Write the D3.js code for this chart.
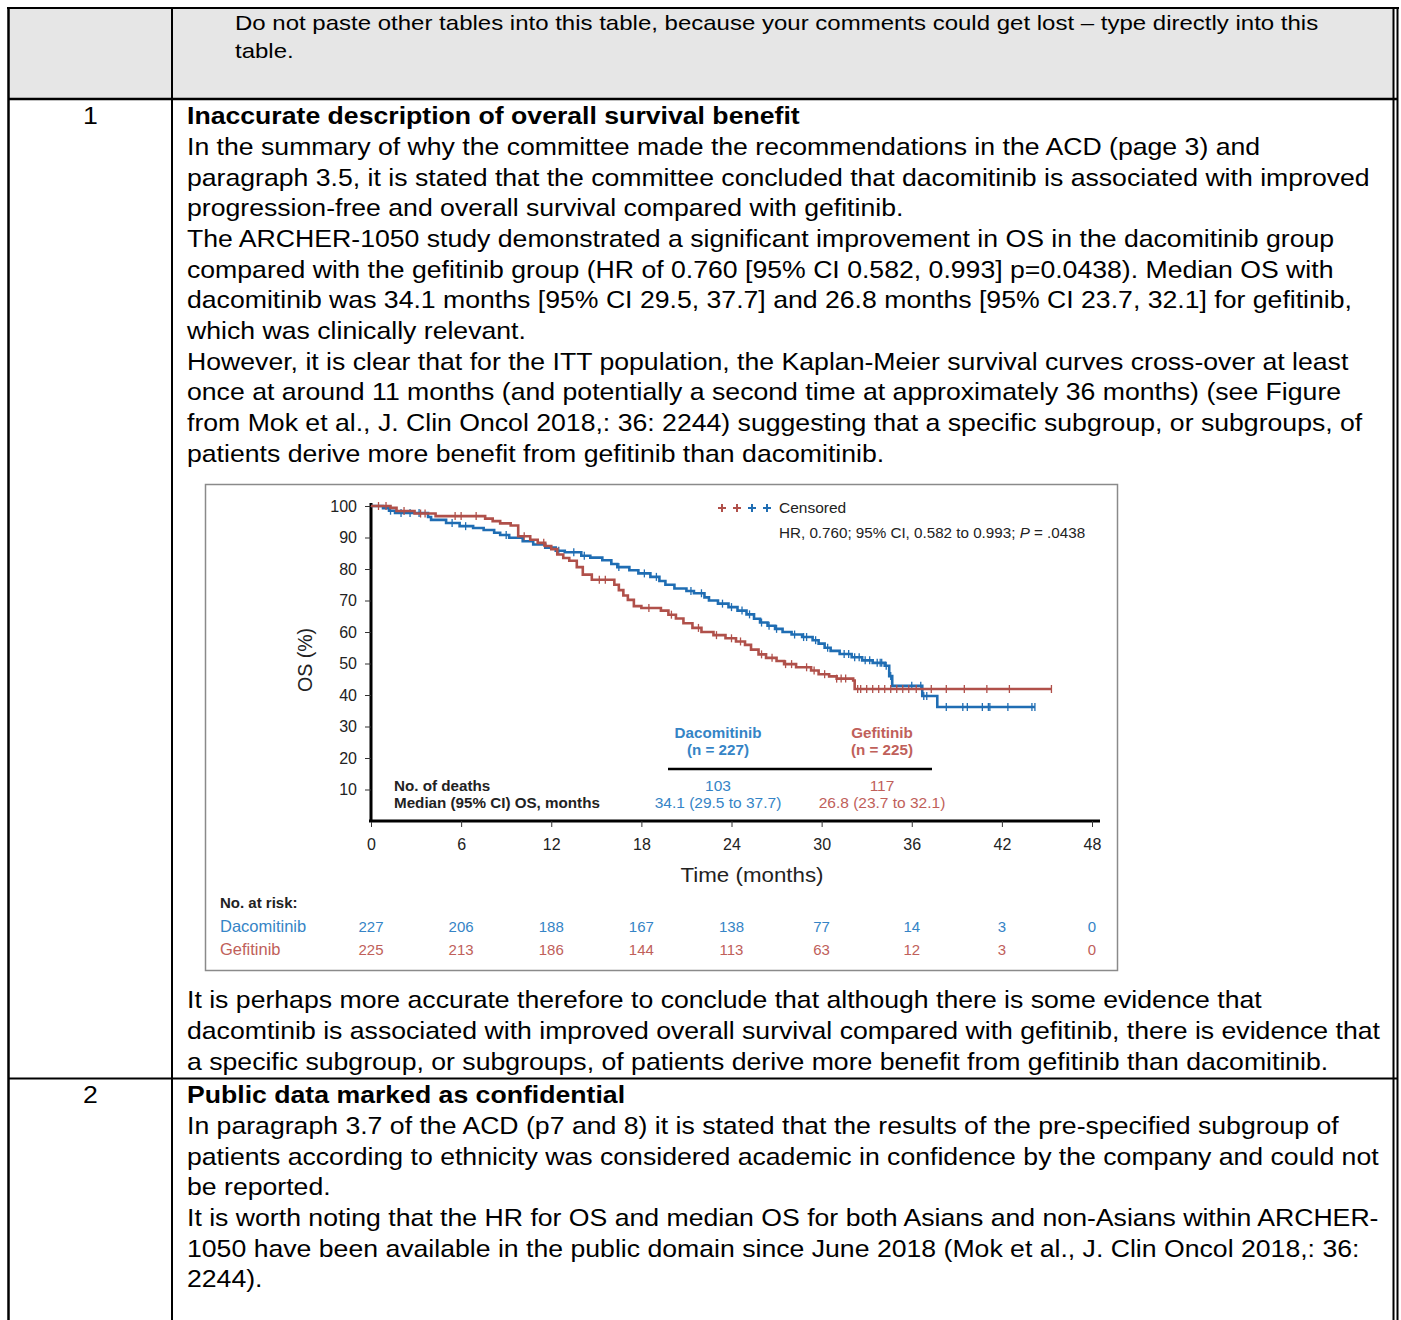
<!DOCTYPE html>
<html>
<head>
<meta charset="utf-8">
<script src="https://cdn.jsdelivr.net/npm/d3@7"></script>
<style>
  body { margin: 0; background: #fff; }
  svg text { font-family: "Liberation Sans", Arial, sans-serif; }
</style>
</head>
<body>
<div id="page"></div>
<script>
// ---- document text ----
var headerLines = [
  "Do not paste other tables into this table, because your comments could get lost \u2013 type directly into this",
  "table."
];
var row1Title = "Inaccurate description of overall survival benefit";
var row1Lines = [
  "In the summary of why the committee made the recommendations in the ACD (page 3) and",
  "paragraph 3.5, it is stated that the committee concluded that dacomitinib is associated with improved",
  "progression-free and overall survival compared with gefitinib.",
  "The ARCHER-1050 study demonstrated a significant improvement in OS in the dacomitinib group",
  "compared with the gefitinib group (HR of 0.760 [95% CI 0.582, 0.993] p=0.0438). Median OS with",
  "dacomitinib was 34.1 months [95% CI 29.5, 37.7] and 26.8 months [95% CI 23.7, 32.1] for gefitinib,",
  "which was clinically relevant.",
  "However, it is clear that for the ITT population, the Kaplan-Meier survival curves cross-over at least",
  "once at around 11 months (and potentially a second time at approximately 36 months) (see Figure",
  "from Mok et al., J. Clin Oncol 2018,: 36: 2244) suggesting that a specific subgroup, or subgroups, of",
  "patients derive more benefit from gefitinib than dacomitinib."
];
var row1After = [
  "It is perhaps more accurate therefore to conclude that although there is some evidence that",
  "dacomtinib is associated with improved overall survival compared with gefitinib, there is evidence that",
  "a specific subgroup, or subgroups, of patients derive more benefit from gefitinib than dacomitinib."
];
var row2Title = "Public data marked as confidential";
var row2Lines = [
  "In paragraph 3.7 of the ACD (p7 and 8) it is stated that the results of the pre-specified subgroup of",
  "patients according to ethnicity was considered academic in confidence by the company and could not",
  "be reported.",
  "It is worth noting that the HR for OS and median OS for both Asians and non-Asians within ARCHER-",
  "1050 have been available in the public domain since June 2018 (Mok et al., J. Clin Oncol 2018,: 36:",
  "2244)."
];

// ---- chart data ----
var xTicks = [0, 6, 12, 18, 24, 30, 36, 42, 48];
var yTicks = [10, 20, 30, 40, 50, 60, 70, 80, 90, 100];

var dacoTimes = [0, 0.8, 1.2, 1.6, 3.8, 4.0, 5.0, 5.9, 6.8, 7.5, 8.2, 8.6, 9.2, 10.1, 10.8, 11.6, 12.3, 12.9,
  14.0, 14.6, 15.4, 16.0, 16.4, 17.2, 17.8, 18.6, 19.2, 19.6, 20.2, 21.0, 21.5, 22.2, 22.5, 23.1, 23.8,
  24.4, 25.0, 25.5, 25.9, 26.4, 26.9, 27.4, 28.0, 28.7, 29.4, 29.8, 30.2, 30.6, 31.2, 32.0, 32.7, 33.4,
  34.2, 34.5, 34.7, 36.7, 37.7, 44.2];
var dacoSurv = [100, 99.3, 98.5, 97.8, 96.5, 95.6, 94.6, 93.6, 93.0, 92.4, 91.5, 90.8, 89.9, 88.8, 87.8, 86.8, 85.8, 85.3,
  84.2, 83.6, 82.8, 81.6, 80.6, 79.6, 78.6, 77.5, 76.2, 75.0, 73.8, 73.0, 72.3, 71.0, 70.0, 69.0, 67.9,
  66.8, 65.6, 64.2, 63.0, 62.0, 61.0, 60.0, 59.2, 58.4, 57.4, 56.3, 55.0, 54.0, 53.0, 52.0, 51.0, 50.2,
  49.3, 46.0, 42.9, 39.7, 36.2, 36.2];
var dacoCensor = [1.3, 2.0, 2.6, 3.2, 5.4, 6.3, 9.0, 12.5, 13.5, 14.2, 16.5, 18.2, 19.0, 21.3, 22.0, 23.4, 24.0,
  24.7, 25.2, 26.0, 26.5, 27.0, 28.2, 28.8, 29.0, 29.6, 30.4, 31.5, 31.8, 32.2, 32.5, 32.9, 33.2, 33.7,
  33.9, 34.0, 34.3, 34.6, 36.0, 36.6, 36.8, 37.0, 38.3, 39.4, 39.7, 40.7, 41.1, 41.2, 42.4, 44.0, 44.2];

var gefiTimes = [0, 1.3, 1.7, 2.9, 4.3, 7.6, 8.1, 8.6, 9.3, 9.8, 10.6, 11.1, 11.6, 12.0, 12.4, 12.8, 13.2, 13.7,
  14.1, 14.7, 16.2, 16.5, 16.8, 17.1, 17.5, 18.0, 19.3, 19.8, 20.3, 20.8, 21.4, 22.0, 22.8, 23.6, 24.3,
  24.9, 25.3, 25.8, 26.3, 27.0, 27.5, 28.3, 29.3, 29.8, 30.5, 31.0, 32.1, 32.2, 45.3];
var gefiSurv = [100, 99.4, 98.4, 97.6, 96.8, 96.0, 95.2, 94.5, 93.8, 90.4, 89.3, 88.3, 87.3, 86.3, 84.6, 83.5, 82.6, 80.6,
  78.2, 76.6, 75.0, 73.3, 71.6, 70.2, 68.2, 67.6, 66.8, 65.5, 64.3, 62.8, 61.3, 60.0, 59.0, 58.0, 57.0,
  55.9, 54.4, 52.9, 51.8, 50.8, 49.8, 48.8, 47.8, 46.6, 45.9, 45.2, 44.6, 41.9, 41.9];
var gefiCensor = [0.5, 1.0, 2.2, 3.3, 3.6, 5.6, 6.0, 7.0, 10.2, 11.5, 15.2, 15.6, 18.5, 20.0, 21.8, 23.0, 24.0,
  24.6, 26.0, 26.7, 27.6, 28.0, 29.0, 29.5, 30.2, 31.0, 31.3, 31.6, 32.4, 32.6, 33.0, 33.4, 33.8, 34.2,
  34.6, 35.0, 35.4, 35.8, 36.3, 37.3, 38.3, 39.5, 41.0, 42.5, 45.3];

var riskDaco = [227, 206, 188, 167, 138, 77, 14, 3, 0];
var riskGefi = [225, 213, 186, 144, 113, 63, 12, 3, 0];

var blue = "#1f6db3", red = "#b0504a";
var blueText = "#3584c6", redText = "#c0605a";

var svg = d3.select("#page").append("svg")
  .attr("width", 1401)
  .attr("height", 1320);

svg.append("rect").attr("width", 1401).attr("height", 1320).attr("fill", "#fff");

// ---- table ----
svg.append("rect")
  .attr("x", 9).attr("y", 9).attr("width", 1384).attr("height", 89)
  .attr("fill", "#e6e6e6");

var borders = svg.append("g").attr("stroke", "#000");
borders.append("line").attr("x1", 7).attr("x2", 1399).attr("y1", 8).attr("y2", 8).attr("stroke-width", 2);
borders.append("line").attr("x1", 8.5).attr("x2", 8.5).attr("y1", 7).attr("y2", 1320).attr("stroke-width", 2.5);
borders.append("line").attr("x1", 172).attr("x2", 172).attr("y1", 8).attr("y2", 1320).attr("stroke-width", 2);
borders.append("line").attr("x1", 1393.5).attr("x2", 1393.5).attr("y1", 8).attr("y2", 1320).attr("stroke-width", 2);
borders.append("line").attr("x1", 1397.5).attr("x2", 1397.5).attr("y1", 7).attr("y2", 1320).attr("stroke-width", 2);
borders.append("line").attr("x1", 8).attr("x2", 1398).attr("y1", 99).attr("y2", 99).attr("stroke-width", 2.5);
borders.append("line").attr("x1", 8).attr("x2", 1398).attr("y1", 1078.5).attr("y2", 1078.5).attr("stroke-width", 2);

// the document font is a bit wider than Arial, so stretch horizontally
function textBlock(lines, x, y0, step, size, weight, sx) {
  svg.append("g")
    .attr("transform", "translate(" + x + ",0) scale(" + (sx || 1.11) + ",1)")
    .selectAll("text")
    .data(lines)
    .enter()
    .append("text")
    .attr("x", 0)
    .attr("y", (d, i) => y0 + i * step)
    .attr("font-size", size + "px")
    .attr("font-weight", weight || "normal")
    .attr("fill", "#000")
    .text(d => d);
}

var lh = 30.65;
textBlock(headerLines, 235, 30.5, 28, 21, "normal", 1.143);
textBlock(["1"], 83, 124.5, 0, 24);
textBlock([row1Title], 187, 124.5, 0, 24, "bold");
textBlock(row1Lines, 187, 124.5 + lh, lh, 24);
textBlock(row1After, 187, 1008.5, lh, 24);
textBlock(["2"], 83, 1103.5, 0, 24);
textBlock([row2Title], 187, 1103.5, 0, 24, "bold");
textBlock(row2Lines, 187, 1103.5 + lh, lh, 24);

// ---- Kaplan-Meier figure ----
svg.append("rect")
  .attr("x", 205.5).attr("y", 484.5).attr("width", 912).attr("height", 486)
  .attr("fill", "#fff").attr("stroke", "#8a8a8a").attr("stroke-width", 1.5);

var chart = svg.append("g");

var x = d3.scaleLinear().domain([0, 48]).range([371, 1092]);
var y = d3.scaleLinear().domain([0, 100]).range([821, 506]);

var xAxis = chart.append("g")
  .attr("transform", "translate(0,821)")
  .call(d3.axisBottom(x).tickValues(xTicks).tickSizeInner(6).tickSizeOuter(0).tickPadding(12));
xAxis.select(".domain").attr("stroke", "#000").attr("stroke-width", 3).attr("d", "M369,0H1100");
xAxis.selectAll(".tick line").attr("stroke", "#333").attr("stroke-width", 1);
xAxis.selectAll(".tick text").attr("font-size", "16px").attr("fill", "#222")
  .attr("font-family", "Liberation Sans, Arial, sans-serif");

var yAxis = chart.append("g")
  .attr("transform", "translate(371,0)")
  .call(d3.axisLeft(y).tickValues(yTicks).tickSizeInner(6).tickSizeOuter(0).tickPadding(8));
yAxis.select(".domain").attr("stroke", "#000").attr("stroke-width", 3).attr("d", "M0,503V822");
yAxis.selectAll(".tick line").attr("stroke", "#333").attr("stroke-width", 1);
yAxis.selectAll(".tick text").attr("font-size", "16px").attr("fill", "#222")
  .attr("font-family", "Liberation Sans, Arial, sans-serif");

chart.append("text")
  .attr("x", 752).attr("y", 882)
  .attr("text-anchor", "middle")
  .attr("font-size", "21px")
  .attr("fill", "#222")
  .attr("textLength", 143)
  .attr("lengthAdjust", "spacingAndGlyphs")
  .text("Time (months)");

chart.append("text")
  .attr("transform", "translate(312,660) rotate(-90)")
  .attr("text-anchor", "middle")
  .attr("font-size", "21px")
  .attr("fill", "#222")
  .attr("textLength", 64)
  .attr("lengthAdjust", "spacingAndGlyphs")
  .text("OS (%)");

// curves
var kmLine = d3.line()
  .x(d => x(d[0]))
  .y(d => y(d[1]))
  .curve(d3.curveStepAfter);

function survAt(times, surv, t) {
  var i = d3.bisectRight(times, t) - 1;
  return surv[Math.max(0, i)];
}

function drawCurve(times, surv, censor, color) {
  chart.append("path")
    .datum(d3.zip(times, surv))
    .attr("fill", "none")
    .attr("stroke", color)
    .attr("stroke-width", 2.6)
    .attr("d", kmLine);
  chart.append("g")
    .selectAll("line")
    .data(censor)
    .enter()
    .append("line")
    .attr("x1", d => x(d)).attr("x2", d => x(d))
    .attr("y1", d => y(survAt(times, surv, d)) - 4)
    .attr("y2", d => y(survAt(times, surv, d)) + 4)
    .attr("stroke", color)
    .attr("stroke-width", 1.3);
}

drawCurve(dacoTimes, dacoSurv, dacoCensor, blue);
drawCurve(gefiTimes, gefiSurv, gefiCensor, red);

// legend
var plusX = [722, 737, 752, 767];
var plusC = [red, red, blue, blue];
chart.append("g").selectAll("path")
  .data(plusX)
  .enter()
  .append("path")
  .attr("d", d => "M" + (d - 4) + ",508H" + (d + 4) + "M" + d + ",504V512")
  .attr("stroke", (d, i) => plusC[i])
  .attr("stroke-width", 2);

chart.append("text").attr("x", 779).attr("y", 513)
  .attr("font-size", "15.5px").attr("fill", "#222").text("Censored");

var hr = chart.append("text").attr("x", 779).attr("y", 538)
  .attr("font-size", "15.2px").attr("fill", "#222");
hr.append("tspan").text("HR, 0.760; 95% CI, 0.582 to 0.993; ");
hr.append("tspan").attr("font-style", "italic").text("P");
hr.append("tspan").text(" = .0438");

// summary table inside plot
function label(tx, ty, str, color, bold, anchor, size) {
  chart.append("text")
    .attr("x", tx).attr("y", ty)
    .attr("text-anchor", anchor || "middle")
    .attr("font-size", (size || 15.2) + "px")
    .attr("font-weight", bold ? "bold" : "normal")
    .attr("fill", color)
    .text(str);
}
label(718, 738, "Dacomitinib", blueText, true);
label(718, 755, "(n = 227)", blueText, true);
label(882, 738, "Gefitinib", redText, true);
label(882, 755, "(n = 225)", redText, true);
chart.append("line").attr("x1", 668).attr("x2", 932).attr("y1", 769).attr("y2", 769)
  .attr("stroke", "#000").attr("stroke-width", 2.5);
label(394, 791, "No. of deaths", "#222", true, "start");
label(394, 808, "Median (95% CI) OS, months", "#222", true, "start");
label(718, 791, "103", blueText, false, "middle", 15.5);
label(718, 808, "34.1 (29.5 to 37.7)", blueText, false, "middle", 15.5);
label(882, 791, "117", redText, false, "middle", 15.5);
label(882, 808, "26.8 (23.7 to 32.1)", redText, false, "middle", 15.5);

// numbers at risk
label(220, 908, "No. at risk:", "#222", true, "start", 15);
label(220, 932, "Dacomitinib", blueText, false, "start", 16.5);
label(220, 955, "Gefitinib", redText, false, "start", 16.5);

chart.append("g").selectAll("text")
  .data(riskDaco)
  .enter()
  .append("text")
  .attr("x", (d, i) => x(xTicks[i]))
  .attr("y", 932)
  .attr("text-anchor", "middle")
  .attr("font-size", "15px")
  .attr("fill", blueText)
  .text(d => d);

chart.append("g").selectAll("text")
  .data(riskGefi)
  .enter()
  .append("text")
  .attr("x", (d, i) => x(xTicks[i]))
  .attr("y", 955)
  .attr("text-anchor", "middle")
  .attr("font-size", "15px")
  .attr("fill", redText)
  .text(d => d);
</script>
</body>
</html>
